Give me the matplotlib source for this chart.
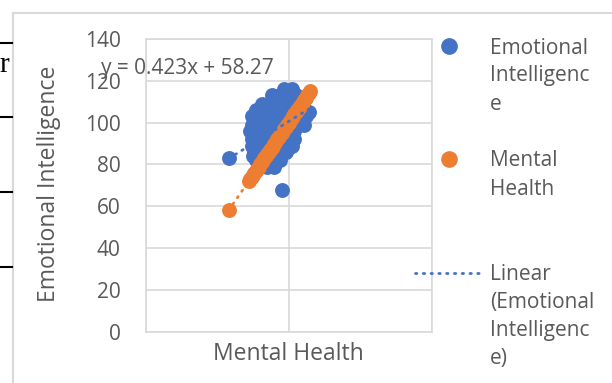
import matplotlib.pyplot as plt
from matplotlib.lines import Line2D

plt.rcParams['font.family'] = ['Open Sans', 'DejaVu Sans']

# Mental Health (x) vs Emotional Intelligence (y)
ei_mh = [97, 102]
ei_mh += [88, 94, 99, 105]
ei_mh += [81, 87, 92, 98, 104, 109]
ei_mh += [77, 83, 88, 94, 99, 105, 111]
ei_mh += [74, 80, 85, 91, 97, 102, 108, 112, 114]
ei_mh += [74, 79, 85, 90, 96, 102, 107, 111]
ei_mh += [73, 79, 85, 90, 96, 102, 104]
ei_mh += [74, 79, 85, 90, 96, 102, 104]
ei_mh += [74, 80, 85, 91, 97, 102]
ei_mh += [75, 76, 81, 87, 93, 98]
ei_mh += [77, 83, 88, 94]
ei_mh += [80, 85, 90]
ei_mh += [58, 95]

ei_score = [116] * 2 + [113] * 4 + [109] * 6 + [106] * 7 + [103] * 8 + [105] + [99] * 8
ei_score += [96] * 7 + [92] * 7 + [89] * 6 + [84, 86, 86, 86, 86, 86] + [82] * 4 + [79] * 3
ei_score += [83, 68]

# Mental Health plotted against itself
mh_score = [58, 72, 73, 74, 75, 76, 77, 78, 79, 80, 81, 82, 83, 84, 85, 86, 87,
            88, 89, 90, 91, 92, 93, 94, 95, 96, 97, 98, 99, 100, 101, 102, 103,
            104, 105, 106, 107, 108, 109, 110, 111, 112, 113, 114, 115]

trend_slope = 0.423
trend_icpt = 58.27

BLUE = '#4472C4'
ORANGE = '#ED7D31'
TXT = '#595959'
GRID = '#D9D9D9'
W, H = 612, 383
FS = 15
FS_TITLE = 16.5


def fx(x):
    return x / W


def fy(y):
    return 1 - y / H


fig = plt.figure(figsize=(W / 100, H / 100), dpi=100)
ax = fig.add_axes([fx(145.7), fy(331.7), 286 / W, 292.7 / H])

ax.scatter(ei_mh, ei_score, s=115, color=BLUE, linewidths=0, zorder=3)
ax.scatter(mh_score, mh_score, s=115, color=ORANGE, linewidths=0, zorder=4)
ax.plot([61, 68], [61, 68], color=ORANGE, lw=2, ls=(0, (0.5, 2.3)),
        dash_capstyle='round', zorder=4)

tx = [min(ei_mh), max(ei_mh)]
ty = [trend_slope * v + trend_icpt for v in tx]
ax.plot(tx, ty, color=BLUE, lw=2, ls=(0, (0.5, 2.3)), dash_capstyle='round', zorder=5)

ax.set_xlim(0, 200)
ax.set_ylim(0, 140)
ax.set_xticks([0, 100, 200])
ax.set_yticks(range(0, 141, 20))
ax.set_xticklabels([])
ax.grid(True, color=GRID, lw=1.2, zorder=0)
ax.set_axisbelow(True)
for s in ax.spines.values():
    s.set_color(GRID)
    s.set_linewidth(1.2)
ax.tick_params(length=0, labelsize=FS, labelcolor=TXT, pad=18)

ax.set_xlabel('Mental Health', fontsize=FS_TITLE, color=TXT)
ax.xaxis.set_label_coords(0.5, -0.076)
ax.xaxis.label.set_verticalalignment('center')
ax.set_ylabel('Emotional Intelligence', fontsize=FS_TITLE, color=TXT)
ax.yaxis.set_label_coords((49 - 145.7) / 286, (331.7 - 184) / 292.7)
ax.yaxis.label.set_verticalalignment('center')

fig.text(fx(187.5), fy(74), 'y = 0.423x + 58.27', fontsize=FS, color=TXT,
         ha='center', va='baseline')

# legend drawn by hand so the marker sits on the first text line
legend_rows = [
    (['Emotional', 'Intelligenc', 'e'], 53.5, 'marker', BLUE),
    (['Mental', 'Health'], 166.5, 'marker', ORANGE),
    (['Linear', '(Emotional', 'Intelligenc', 'e)'], 280, 'line', BLUE),
]
for lines, base, kind, col in legend_rows:
    yc = base - 7.5
    if kind == 'marker':
        fig.add_artist(Line2D([fx(449)], [fy(yc)], marker='o', ms=11, color=col,
                              mec=col, transform=fig.transFigure))
    else:
        fig.add_artist(Line2D([fx(415), fx(482)], [fy(yc), fy(yc)], color=col, lw=2,
                              ls=(0, (0.5, 2.3)), dash_capstyle='round',
                              transform=fig.transFigure))
    for i, t in enumerate(lines):
        fig.text(fx(490), fy(base + 28 * i), t, fontsize=FS, color=TXT, va='baseline')

# outer chart border and the page behind it
fig.add_artist(Line2D([fx(13), fx(612)], [fy(13), fy(13)], color=GRID, lw=1.5,
                      transform=fig.transFigure))
fig.add_artist(Line2D([fx(13), fx(13)], [fy(13), fy(383)], color=GRID, lw=1.5,
                      transform=fig.transFigure))
for yy in [42.7, 117.3, 192.3, 267.3]:
    fig.add_artist(Line2D([0, fx(12)], [fy(yy), fy(yy)], color='black', lw=1.5,
                          transform=fig.transFigure))
fig.text(fx(9), fy(72), 'r', fontsize=21, family='Liberation Serif', color='black',
         ha='right', va='baseline')

fig.savefig('out.png', dpi=100)
